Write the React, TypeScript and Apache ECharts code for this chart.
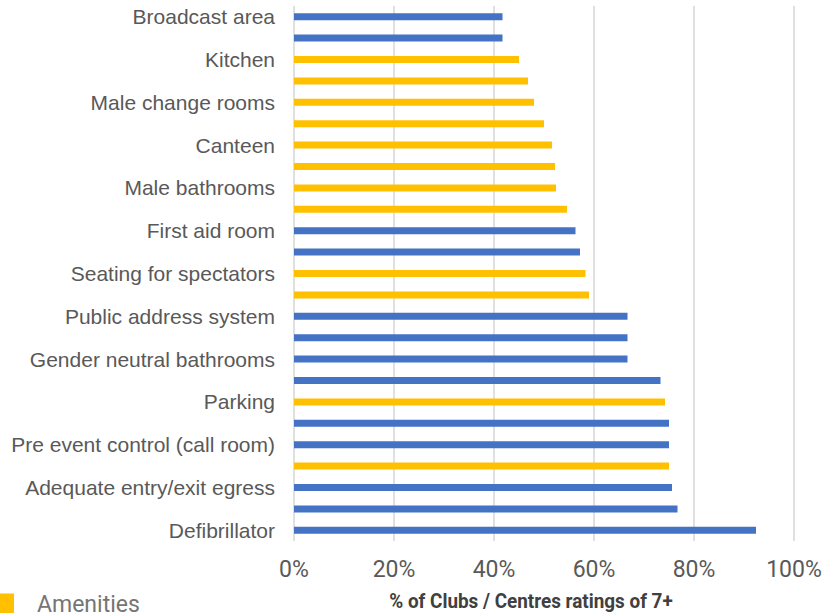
import React, { useEffect, useRef } from "react";
import * as echarts from "echarts";

// Categories listed top to bottom (y axis is inverted)
const categories: string[] = [
  "Broadcast area",
  "Media area",
  "Kitchen",
  "Female change rooms",
  "Male change rooms",
  "Storage",
  "Canteen",
  "Female bathrooms",
  "Male bathrooms",
  "Club room",
  "First aid room",
  "Officials room",
  "Seating for spectators",
  "Shade for spectators",
  "Public address system",
  "Scoreboard",
  "Gender neutral bathrooms",
  "Lighting",
  "Parking",
  "Accessible access",
  "Pre event control (call room)",
  "Water fountains",
  "Adequate entry/exit egress",
  "Emergency lighting",
  "Defibrillator",
];

// % of Clubs / Centres rating 7+
const values: number[] = [
  41.7, 41.7, 45.0, 46.8, 48.0, 50.0, 51.6, 52.2, 52.4, 54.6, 56.3, 57.2, 58.3,
  59.0, 66.7, 66.7, 66.7, 73.3, 74.2, 75.0, 75.0, 75.0, 75.6, 76.7, 92.4,
];

// A = Amenities (yellow), S = other group (blue)
const groups: string[] = [
  "S", "S", "A", "A", "A", "A", "A", "A", "A", "A", "S", "S", "A",
  "A", "S", "S", "S", "S", "A", "S", "S", "A", "S", "S", "S",
];

const xTicks = { min: 0, max: 100, interval: 20 };
const axisTitle = "% of Clubs / Centres ratings of 7+";
const amenitiesName = "Amenities";
const otherName = "Safety";

export default function App() {
  const ref = useRef<HTMLDivElement>(null);

  useEffect(() => {
    if (!ref.current) return;
    const chart = echarts.init(ref.current, null, { renderer: "svg" });

    const amenData = values.map((v, i) => (groups[i] === "A" ? v : "-"));
    const otherData = values.map((v, i) => (groups[i] === "S" ? v : "-"));

    chart.setOption({
      animation: false,
      backgroundColor: "#ffffff",
      grid: { left: 294, right: 32, top: 6, bottom: 72, containLabel: false },
      xAxis: {
        type: "value",
        min: xTicks.min,
        max: xTicks.max,
        interval: xTicks.interval,
        axisLine: { show: false },
        axisTick: { show: false },
        splitLine: { show: true, lineStyle: { color: "#d9d9d9", width: 1.6 } },
        axisLabel: {
          formatter: "{value}%",
          fontFamily: "Roboto",
          fontSize: 23,
          color: "#595959",
          margin: 17,
        },
      },
      yAxis: {
        type: "category",
        inverse: true,
        data: categories,
        axisLine: { show: false },
        axisTick: { show: false },
        splitLine: { show: false },
        axisLabel: {
          interval: 1,
          fontFamily: "Liberation Sans, Arial",
          fontSize: 21,
          color: "#595959",
          margin: 19,
        },
      },
      legend: {
        data: [amenitiesName],
        left: 0,
        top: 593,
        padding: 0,
        icon: "rect",
        itemWidth: 14,
        itemHeight: 22,
        textStyle: {
          fontFamily: "Roboto",
          fontSize: 23,
          color: "#757575",
          padding: [0, 0, 0, 18],
        },
      },
      graphic: [
        {
          type: "text",
          x: 531,
          y: 601,
          scaleX: 0.9,
          style: {
            text: axisTitle,
            fontFamily: "Roboto",
            fontWeight: "bold",
            fontSize: 21,
            fill: "#404040",
            align: "center",
            verticalAlign: "middle",
          },
        },
      ],
      series: [
        {
          name: amenitiesName,
          type: "bar",
          data: amenData,
          barWidth: 7,
          barGap: "-100%",
          itemStyle: { color: "#FFC000" },
        },
        {
          name: otherName,
          type: "bar",
          data: otherData,
          barWidth: 7,
          barGap: "-100%",
          itemStyle: { color: "#4472C4" },
        },
      ],
    });

    return () => chart.dispose();
  }, []);

  return (
    <div
      ref={ref}
      style={{ position: "fixed", left: 0, top: 0, width: 826, height: 613 }}
    />
  );
}
